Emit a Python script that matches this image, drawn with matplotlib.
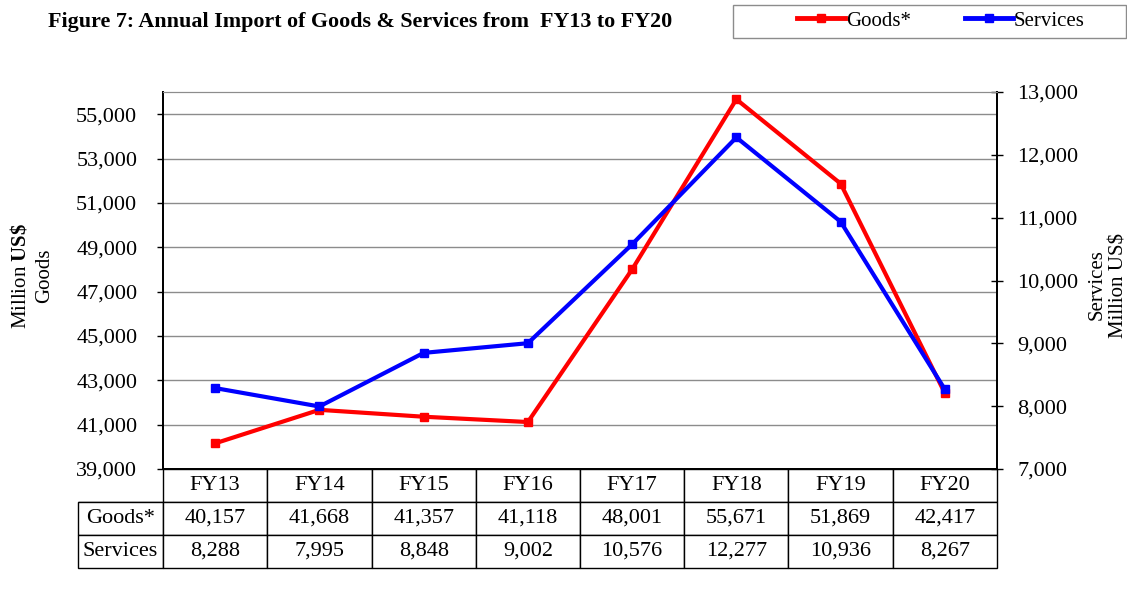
import matplotlib
matplotlib.use("Agg")
import matplotlib.pyplot as plt
from matplotlib.patches import Rectangle
from matplotlib.lines import Line2D
from matplotlib.ticker import FuncFormatter

plt.rcParams["font.family"] = "Liberation Serif"
plt.rcParams["mathtext.fontset"] = "custom"
plt.rcParams["mathtext.rm"] = "Liberation Serif"
plt.rcParams["mathtext.bf"] = "Liberation Serif:bold"

years = ["FY13", "FY14", "FY15", "FY16", "FY17", "FY18", "FY19", "FY20"]
goods = [40157, 41668, 41357, 41118, 48001, 55671, 51869, 42417]
services = [8288, 7995, 8848, 9002, 10576, 12277, 10936, 8267]
goods_ticks = list(range(39000, 55001, 2000))
services_ticks = list(range(7000, 13001, 1000))

W, H = 1127, 589
fig = plt.figure(figsize=(W / 100, H / 100), dpi=100)


def fx(px):
    return px / W


def fy(py):
    return 1 - py / H


# plot area in pixels
L, R, T, B = 163, 997, 92, 469
ax = fig.add_axes([fx(L), fy(B), fx(R - L), (B - T) / H])
ax2 = ax.twinx()

x = list(range(len(years)))
ax.plot(x, goods, color="#ff0000", lw=3, marker="s", ms=6, zorder=3)
ax2.plot(x, services, color="#0000ff", lw=3, marker="s", ms=6, zorder=3)

ax.set_xlim(-0.5, len(years) - 0.5)
ax.set_ylim(39000, 56000)
ax2.set_ylim(7000, 13000)
ax.set_yticks(goods_ticks)
ax2.set_yticks(services_ticks)
fmt = FuncFormatter(lambda v, p: f"{v:,.0f}")
ax.yaxis.set_major_formatter(fmt)
ax2.yaxis.set_major_formatter(fmt)
ax.set_xticks([])

ax.grid(axis="y", color="#8c8c8c", lw=1)
ax.set_axisbelow(True)
ax.tick_params(axis="y", direction="out", length=4.5, width=1, pad=14, labelsize=16)
ax2.tick_params(axis="y", direction="inout", length=9, width=1, pad=10, labelsize=16)

for a in (ax, ax2):
    a.spines["top"].set_color("#8c8c8c")
    a.spines["left"].set_linewidth(1.3)
    a.spines["right"].set_linewidth(1.3)
    a.spines["bottom"].set_linewidth(1.3)

# data table under the plot
cols = [""] + years
cells = [["Goods*"] + [f"{v:,}" for v in goods],
         ["Services"] + [f"{v:,}" for v in services]]
lab_w = L - 78
col_w = (R - L) / len(years)
widths = [lab_w] + [col_w] * len(years)
tot = sum(widths)
tbl = ax.table(cellText=cells, colLabels=cols, cellLoc="center",
               colWidths=[w / tot for w in widths],
               bbox=[(78 - L) / (R - L), -(568 - B) / (B - T),
                     (R - 78) / (R - L), (568 - B) / (B - T)])
tbl.auto_set_font_size(False)
tbl.set_fontsize(16)
for (r, c), cell in tbl.get_celld().items():
    cell.set_linewidth(1)
    cell.set_edgecolor("black")
    if c == 0:
        cell._loc = "left"
        cell.PAD = 0.015
if (0, 0) in tbl.get_celld():
    tbl[0, 0].visible_edges = "B"

# axis titles
fig.text(fx(20), fy(276), r"Million $\mathbf{US\$}$", rotation=90,
         ha="center", va="center", fontsize=15)
fig.text(fx(45), fy(276), "Goods", rotation=90, ha="center", va="center", fontsize=15)
fig.text(fx(1097), fy(285), "Services", rotation=90, ha="center", va="center", fontsize=15)
fig.text(fx(1119), fy(285), "Million US$", rotation=90, ha="center", va="center", fontsize=15)

fig.text(fx(48), fy(22), "Figure 7: Annual Import of Goods & Services from  FY13 to FY20",
         fontsize=15.8, fontweight="bold", ha="left", va="center")

# legend box
fig.patches.append(Rectangle((fx(733), fy(38)), fx(1126 - 733), (38 - 5) / H,
                             transform=fig.transFigure, fill=False,
                             edgecolor="#8c8c8c", lw=1))
handles = [Line2D([], [], color="#ff0000", lw=3.5, marker="s", ms=6),
           Line2D([], [], color="#0000ff", lw=3.5, marker="s", ms=6)]
fig.legend(handles, ["Goods*", "Services"], ncol=2, frameon=False,
           loc="center left", bbox_to_anchor=(fx(797), fy(21)),
           borderpad=0, borderaxespad=0, handlelength=2.3, handletextpad=0.05,
           columnspacing=2.6, fontsize=15, markerfirst=True)

fig.savefig("out.png", dpi=100)
